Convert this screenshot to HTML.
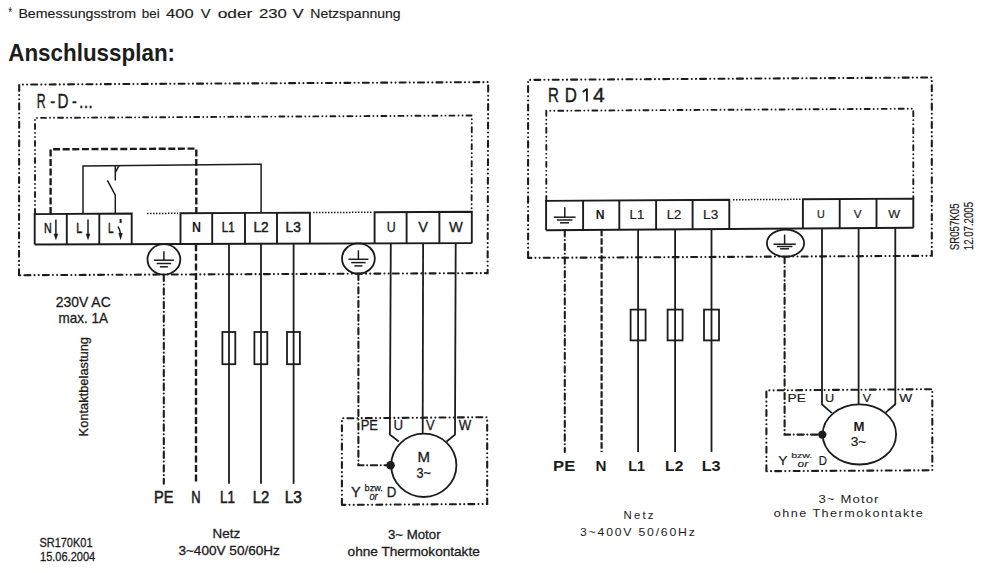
<!DOCTYPE html>
<html><head><meta charset="utf-8"><style>
html,body{margin:0;padding:0;background:#fff;}
svg{display:block;}
text{font-family:"Liberation Sans",sans-serif;fill:#1c1c1c;}
</style></head><body>
<svg width="987" height="573" viewBox="0 0 987 573">
<rect width="987" height="573" fill="#fff"/>
<path d="M19.00,275.20 L19.20,84.60 L488.20,82.10 L487.60,273.10 L19.00,275.20" fill="none" stroke="#1c1c1c" stroke-width="2.1" stroke-linecap="round" stroke-dasharray="6 4.1 0.01 4.2 0.01 4.1"/>
<path d="M35.00,214.00 L35.00,117.90 L471.80,115.50 L471.60,212.00" fill="none" stroke="#1c1c1c" stroke-width="1.9" stroke-linecap="round" stroke-dasharray="5 4 0.01 4 0.01 4"/>
<path d="M50.60,214.00 L50.60,149.30 L196.30,148.60 L196.30,213.20" fill="none" stroke="#1c1c1c" stroke-width="2.4" stroke-dasharray="7 2.6"/>
<path d="M83.00,214.00 L83.00,165.90 L261.10,164.30 L261.10,213.00" fill="none" stroke="#1c1c1c" stroke-width="1.5"/>
<line x1="115.3" y1="165.7" x2="115.3" y2="180.5" fill="none" stroke="#1c1c1c" stroke-width="1.5"/>
<line x1="115.3" y1="172.4" x2="119" y2="165.6" fill="none" stroke="#1c1c1c" stroke-width="1.5"/>
<polyline points="107.4,180.3 115.3,195.2 115.3,214" fill="none" stroke="#1c1c1c" stroke-width="1.5"/>
<path d="M34.70,244.50 L34.70,214.10 L131.70,213.57 L131.70,244.20" fill="none" stroke="#1c1c1c" stroke-width="1.9"/>
<line x1="66.8" y1="213.93" x2="66.8" y2="244.4" fill="none" stroke="#1c1c1c" stroke-width="1.9"/>
<line x1="99.3" y1="213.75" x2="99.3" y2="244.3" fill="none" stroke="#1c1c1c" stroke-width="1.9"/>
<path d="M180.50,244.05 L180.50,213.31 L309.90,212.60 L309.90,243.64" fill="none" stroke="#1c1c1c" stroke-width="1.9"/>
<line x1="212.2" y1="213.13" x2="212.2" y2="243.95" fill="none" stroke="#1c1c1c" stroke-width="1.9"/>
<line x1="245" y1="212.95" x2="245" y2="243.85" fill="none" stroke="#1c1c1c" stroke-width="1.9"/>
<line x1="277" y1="212.78" x2="277" y2="243.75" fill="none" stroke="#1c1c1c" stroke-width="1.9"/>
<path d="M374.60,243.44 L374.60,212.25 L471.80,211.72 L471.80,243.14" fill="none" stroke="#1c1c1c" stroke-width="1.9"/>
<line x1="406.6" y1="212.07" x2="406.6" y2="243.34" fill="none" stroke="#1c1c1c" stroke-width="1.9"/>
<line x1="439.4" y1="211.89" x2="439.4" y2="243.24" fill="none" stroke="#1c1c1c" stroke-width="1.9"/>
<path d="M34.70,244.50 L471.80,243.14" fill="none" stroke="#1c1c1c" stroke-width="1.9"/>
<path d="M147.00,213.49 L178.00,213.32" fill="none" stroke="#1c1c1c" stroke-width="1.5" stroke-dasharray="1.5 1.5"/>
<path d="M313.00,212.58 L373.00,212.26" fill="none" stroke="#1c1c1c" stroke-width="1.5" stroke-dasharray="1.5 1.5"/>
<line x1="55.9" y1="219.5" x2="55.9" y2="235.3" fill="none" stroke="#1c1c1c" stroke-width="1.5"/>
<path d="M53.6,233.8 L58.199999999999996,233.8 L55.9,240.3 Z" fill="#1c1c1c"/>
<line x1="88" y1="219.5" x2="88" y2="235.3" fill="none" stroke="#1c1c1c" stroke-width="1.5"/>
<path d="M85.7,233.8 L90.3,233.8 L88,240.3 Z" fill="#1c1c1c"/>
<line x1="120.6" y1="219" x2="120.6" y2="223" stroke="#1c1c1c" stroke-width="2"/>
<path d="M117.9,226.5 Q119.8,229 120.5,233.5" fill="none" stroke="#1c1c1c" stroke-width="1.5"/>
<path d="M118.4,233 L122.7,233 L120.6,240.2 Z" fill="#1c1c1c"/>
<ellipse cx="163.9" cy="259.4" rx="16.4" ry="15.2" fill="none" stroke="#1c1c1c" stroke-width="1.8"/>
<line x1="163.9" y1="251.2" x2="163.9" y2="260.2" fill="none" stroke="#1c1c1c" stroke-width="1.5"/>
<line x1="153.9" y1="260.2" x2="173.9" y2="260.2" fill="none" stroke="#1c1c1c" stroke-width="1.5"/>
<line x1="156.70000000000002" y1="263.5" x2="171.1" y2="263.5" fill="none" stroke="#1c1c1c" stroke-width="1.5"/>
<line x1="159.9" y1="266.8" x2="167.9" y2="266.8" fill="none" stroke="#1c1c1c" stroke-width="1.5"/>
<ellipse cx="358.4" cy="258.5" rx="16.4" ry="15.2" fill="none" stroke="#1c1c1c" stroke-width="1.8"/>
<line x1="358.4" y1="250.3" x2="358.4" y2="259.3" fill="none" stroke="#1c1c1c" stroke-width="1.5"/>
<line x1="348.4" y1="259.3" x2="368.4" y2="259.3" fill="none" stroke="#1c1c1c" stroke-width="1.5"/>
<line x1="351.2" y1="262.6" x2="365.59999999999997" y2="262.6" fill="none" stroke="#1c1c1c" stroke-width="1.5"/>
<line x1="354.4" y1="265.90000000000003" x2="362.4" y2="265.90000000000003" fill="none" stroke="#1c1c1c" stroke-width="1.5"/>
<line x1="163.8" y1="274.7" x2="163.8" y2="483.8" fill="none" stroke="#1c1c1c" stroke-width="2.1" stroke-linecap="round" stroke-dasharray="6.3 3.6 0.01 3.7"/>
<line x1="196" y1="244.2" x2="196" y2="483.8" fill="none" stroke="#1c1c1c" stroke-width="2.4" stroke-dasharray="7 2.6"/>
<line x1="229" y1="244" x2="229" y2="483.8" fill="none" stroke="#1c1c1c" stroke-width="1.8"/>
<rect x="222.4" y="332" width="12.9" height="32.2" fill="none" stroke="#1c1c1c" stroke-width="1.8"/>
<line x1="261" y1="244" x2="261" y2="483.8" fill="none" stroke="#1c1c1c" stroke-width="1.8"/>
<rect x="254.4" y="332" width="12.9" height="32.2" fill="none" stroke="#1c1c1c" stroke-width="1.8"/>
<line x1="293.6" y1="244" x2="293.6" y2="483.8" fill="none" stroke="#1c1c1c" stroke-width="1.8"/>
<rect x="287.0" y="332" width="12.9" height="32.2" fill="none" stroke="#1c1c1c" stroke-width="1.8"/>
<path d="M358.4,273.6 V465.3 H388" fill="none" stroke="#1c1c1c" stroke-width="2.1" stroke-linecap="round" stroke-dasharray="6.3 3.6 0.01 3.7"/>
<polyline points="390.8,243.6 389.9,434.6 398.8,441.5" fill="none" stroke="#1c1c1c" stroke-width="1.8"/>
<line x1="423.1" y1="243.5" x2="422.7" y2="433.6" fill="none" stroke="#1c1c1c" stroke-width="1.8"/>
<polyline points="455.7,243.4 455,434.6 446.6,441.5" fill="none" stroke="#1c1c1c" stroke-width="1.8"/>
<path d="M341.90,504.90 L341.90,418.30 L487.20,417.20 L487.20,504.00 L341.90,504.90" fill="none" stroke="#1c1c1c" stroke-width="2.1" stroke-linecap="round" stroke-dasharray="6 4.1 0.01 4.2 0.01 4.1"/>
<ellipse cx="423.8" cy="465.3" rx="32.6" ry="31.7" fill="none" stroke="#1c1c1c" stroke-width="1.8"/>
<circle cx="390.5" cy="465.3" r="4.3" fill="#1c1c1c"/>
<path d="M528.10,257.90 L528.10,79.90 L931.80,77.50 L931.80,255.80 L528.10,257.90" fill="none" stroke="#1c1c1c" stroke-width="2.1" stroke-linecap="round" stroke-dasharray="6 4.1 0.01 4.2 0.01 4.1"/>
<path d="M546.30,200.90 L546.30,110.80 L913.30,108.70 L913.30,198.60" fill="none" stroke="#1c1c1c" stroke-width="1.9" stroke-linecap="round" stroke-dasharray="5 4 0.01 4 0.01 4"/>
<path d="M546.10,230.20 L546.10,200.90 L729.30,199.75 L729.30,228.95" fill="none" stroke="#1c1c1c" stroke-width="1.9"/>
<line x1="583.1" y1="200.67" x2="583.1" y2="229.95" fill="none" stroke="#1c1c1c" stroke-width="1.9"/>
<line x1="619.3" y1="200.44" x2="619.3" y2="229.7" fill="none" stroke="#1c1c1c" stroke-width="1.9"/>
<line x1="656.1" y1="200.21" x2="656.1" y2="229.45" fill="none" stroke="#1c1c1c" stroke-width="1.9"/>
<line x1="692.6" y1="199.98" x2="692.6" y2="229.2" fill="none" stroke="#1c1c1c" stroke-width="1.9"/>
<path d="M802.90,228.45 L802.90,199.29 L913.30,198.60 L913.30,227.70" fill="none" stroke="#1c1c1c" stroke-width="1.9"/>
<line x1="839.7" y1="199.06" x2="839.7" y2="228.2" fill="none" stroke="#1c1c1c" stroke-width="1.9"/>
<line x1="876.5" y1="198.83" x2="876.5" y2="227.95" fill="none" stroke="#1c1c1c" stroke-width="1.9"/>
<path d="M546.10,230.20 L913.30,227.70" fill="none" stroke="#1c1c1c" stroke-width="1.9"/>
<path d="M733.00,199.73 L801.00,199.30" fill="none" stroke="#1c1c1c" stroke-width="1.5" stroke-dasharray="1.5 1.5"/>
<line x1="564.8" y1="207.2" x2="564.8" y2="217.2" fill="none" stroke="#1c1c1c" stroke-width="1.5"/>
<line x1="553.8" y1="217.2" x2="575.6" y2="217.2" fill="none" stroke="#1c1c1c" stroke-width="1.5"/>
<line x1="557" y1="220" x2="572.4" y2="220" fill="none" stroke="#1c1c1c" stroke-width="1.5"/>
<line x1="560" y1="222.8" x2="569" y2="222.8" fill="none" stroke="#1c1c1c" stroke-width="1.5"/>
<ellipse cx="785.5" cy="243.2" rx="18.6" ry="13.6" fill="none" stroke="#1c1c1c" stroke-width="1.8"/>
<line x1="784.6" y1="234.6" x2="784.6" y2="244.2" fill="none" stroke="#1c1c1c" stroke-width="1.5"/>
<line x1="773.5" y1="244.2" x2="795.8" y2="244.2" fill="none" stroke="#1c1c1c" stroke-width="1.5"/>
<line x1="776.8" y1="246.5" x2="792.4" y2="246.5" fill="none" stroke="#1c1c1c" stroke-width="1.5"/>
<line x1="780.2" y1="248.8" x2="789.1" y2="248.8" fill="none" stroke="#1c1c1c" stroke-width="1.5"/>
<line x1="564.8" y1="230.2" x2="564.8" y2="451.9" fill="none" stroke="#1c1c1c" stroke-width="2.1" stroke-linecap="round" stroke-dasharray="6.3 3.6 0.01 3.7"/>
<line x1="601.6" y1="229.8" x2="601.6" y2="451.9" fill="none" stroke="#1c1c1c" stroke-width="2.2" stroke-dasharray="6.5 2"/>
<line x1="638.1" y1="229.57" x2="638.1" y2="451.9" fill="none" stroke="#1c1c1c" stroke-width="1.8"/>
<rect x="630.6" y="309.6" width="15" height="30.8" fill="none" stroke="#1c1c1c" stroke-width="1.8"/>
<line x1="675.1" y1="229.32" x2="675.1" y2="451.9" fill="none" stroke="#1c1c1c" stroke-width="1.8"/>
<rect x="667.6" y="309.6" width="15" height="30.8" fill="none" stroke="#1c1c1c" stroke-width="1.8"/>
<line x1="711.5" y1="229.07" x2="711.5" y2="451.9" fill="none" stroke="#1c1c1c" stroke-width="1.8"/>
<rect x="704.0" y="309.6" width="15" height="30.8" fill="none" stroke="#1c1c1c" stroke-width="1.8"/>
<path d="M784.6,256.9 V434.6 H820" fill="none" stroke="#1c1c1c" stroke-width="2.1" stroke-linecap="round" stroke-dasharray="6.3 3.6 0.01 3.7"/>
<polyline points="822,228.2 822,404.3 831.9,413.1" fill="none" stroke="#1c1c1c" stroke-width="1.8"/>
<line x1="858.6" y1="228.1" x2="858.6" y2="404.3" fill="none" stroke="#1c1c1c" stroke-width="1.8"/>
<polyline points="895.3,228 895.3,404.3 885.6,412.6" fill="none" stroke="#1c1c1c" stroke-width="1.8"/>
<path d="M766.40,471.20 L766.40,390.40 L932.30,389.20 L932.30,470.30 L766.40,471.20" fill="none" stroke="#1c1c1c" stroke-width="2.1" stroke-linecap="round" stroke-dasharray="6 4.1 0.01 4.2 0.01 4.1"/>
<ellipse cx="859.4" cy="434.4" rx="36.7" ry="30.1" fill="none" stroke="#1c1c1c" stroke-width="1.8"/>
<circle cx="822.3" cy="434.6" r="4.2" fill="#1c1c1c"/>
<text x="8.20" y="17.2" font-size="14" font-weight="normal" textLength="3.90" lengthAdjust="spacingAndGlyphs" >*</text>
<text x="18.40" y="17.9" font-size="12.8" font-weight="normal" textLength="117.70" lengthAdjust="spacingAndGlyphs" stroke="#1c1c1c" stroke-width="0.15" >Bemessungsstrom</text>
<text x="141.80" y="17.9" font-size="12.8" font-weight="normal" textLength="17.81" lengthAdjust="spacingAndGlyphs" stroke="#1c1c1c" stroke-width="0.15" >bei</text>
<text x="166.00" y="17.9" font-size="12.8" font-weight="normal" textLength="27.61" lengthAdjust="spacingAndGlyphs" stroke="#1c1c1c" stroke-width="0.15" >400</text>
<text x="200.70" y="17.9" font-size="12.8" font-weight="normal" textLength="9.90" lengthAdjust="spacingAndGlyphs" stroke="#1c1c1c" stroke-width="0.15" >V</text>
<text x="217.70" y="17.9" font-size="12.8" font-weight="normal" textLength="34.71" lengthAdjust="spacingAndGlyphs" stroke="#1c1c1c" stroke-width="0.15" >oder</text>
<text x="259.00" y="17.9" font-size="12.8" font-weight="normal" textLength="27.91" lengthAdjust="spacingAndGlyphs" stroke="#1c1c1c" stroke-width="0.15" >230</text>
<text x="292.50" y="17.9" font-size="12.8" font-weight="normal" textLength="11.20" lengthAdjust="spacingAndGlyphs" stroke="#1c1c1c" stroke-width="0.15" >V</text>
<text x="310.30" y="17.9" font-size="12.8" font-weight="normal" textLength="90.30" lengthAdjust="spacingAndGlyphs" stroke="#1c1c1c" stroke-width="0.15" >Netzspannung</text>
<text x="8.20" y="60.6" font-size="24" font-weight="bold" textLength="166.90" lengthAdjust="spacingAndGlyphs" >Anschlussplan:</text>
<text x="36.70" y="107.5" font-size="19.5" font-weight="normal" textLength="8.90" lengthAdjust="spacingAndGlyphs" stroke="#1c1c1c" stroke-width="0.35" >R</text>
<text x="50.30" y="107.5" font-size="19.5" font-weight="normal" textLength="5.00" lengthAdjust="spacingAndGlyphs" stroke="#1c1c1c" stroke-width="0.35" >-</text>
<text x="57.60" y="107.5" font-size="19.5" font-weight="normal" textLength="11.00" lengthAdjust="spacingAndGlyphs" stroke="#1c1c1c" stroke-width="0.35" >D</text>
<text x="72.00" y="107.5" font-size="19.5" font-weight="normal" textLength="4.80" lengthAdjust="spacingAndGlyphs" stroke="#1c1c1c" stroke-width="0.35" >-</text>
<text x="79.10" y="107.5" font-size="19.5" font-weight="normal" textLength="13.61" lengthAdjust="spacingAndGlyphs" stroke="#1c1c1c" stroke-width="0.35" >...</text>
<text x="44.00" y="232.9" font-size="14.5" font-weight="normal" textLength="7.70" lengthAdjust="spacingAndGlyphs" stroke="#1c1c1c" stroke-width="0.5" >N</text>
<text x="76.30" y="232.9" font-size="14.5" font-weight="normal" textLength="6.10" lengthAdjust="spacingAndGlyphs" stroke="#1c1c1c" stroke-width="0.5" >L</text>
<text x="108.00" y="232.9" font-size="14.5" font-weight="normal" textLength="5.60" lengthAdjust="spacingAndGlyphs" stroke="#1c1c1c" stroke-width="0.5" >L</text>
<text x="192.00" y="232.1" font-size="14" font-weight="bold" textLength="9.00" lengthAdjust="spacingAndGlyphs" >N</text>
<text x="221.80" y="232.1" font-size="14" font-weight="normal" textLength="12.80" lengthAdjust="spacingAndGlyphs" stroke="#1c1c1c" stroke-width="0.5" >L1</text>
<text x="253.40" y="232.1" font-size="14" font-weight="normal" textLength="15.20" lengthAdjust="spacingAndGlyphs" stroke="#1c1c1c" stroke-width="0.5" >L2</text>
<text x="285.60" y="232.1" font-size="14" font-weight="normal" textLength="15.20" lengthAdjust="spacingAndGlyphs" stroke="#1c1c1c" stroke-width="0.5" >L3</text>
<text x="386.70" y="231.5" font-size="14" font-weight="normal" textLength="9.00" lengthAdjust="spacingAndGlyphs" stroke="#1c1c1c" stroke-width="0.3" >U</text>
<text x="418.30" y="231.5" font-size="14" font-weight="normal" textLength="9.80" lengthAdjust="spacingAndGlyphs" stroke="#1c1c1c" stroke-width="0.3" >V</text>
<text x="449.10" y="231.5" font-size="14" font-weight="normal" textLength="13.80" lengthAdjust="spacingAndGlyphs" stroke="#1c1c1c" stroke-width="0.3" >W</text>
<text x="154.10" y="502.7" font-size="16" font-weight="normal" textLength="19.50" lengthAdjust="spacingAndGlyphs" stroke="#1c1c1c" stroke-width="0.55" >PE</text>
<text x="191.30" y="502.7" font-size="16" font-weight="normal" textLength="9.30" lengthAdjust="spacingAndGlyphs" stroke="#1c1c1c" stroke-width="0.55" >N</text>
<text x="220.00" y="502.7" font-size="16" font-weight="normal" textLength="15.00" lengthAdjust="spacingAndGlyphs" stroke="#1c1c1c" stroke-width="0.55" >L1</text>
<text x="252.80" y="502.7" font-size="16" font-weight="normal" textLength="16.40" lengthAdjust="spacingAndGlyphs" stroke="#1c1c1c" stroke-width="0.55" >L2</text>
<text x="284.70" y="502.7" font-size="16" font-weight="normal" textLength="17.20" lengthAdjust="spacingAndGlyphs" stroke="#1c1c1c" stroke-width="0.55" >L3</text>
<text x="55.80" y="306.9" font-size="14.4" font-weight="normal" textLength="54.90" lengthAdjust="spacingAndGlyphs" stroke="#1c1c1c" stroke-width="0.3" >230V AC</text>
<text x="58.50" y="323.1" font-size="14.4" font-weight="normal" textLength="49.60" lengthAdjust="spacingAndGlyphs" stroke="#1c1c1c" stroke-width="0.3" >max. 1A</text>
<text x="0.00" y="0" font-size="12.6" font-weight="normal" textLength="99.40" lengthAdjust="spacingAndGlyphs" stroke="#1c1c1c" stroke-width="0.3" transform="translate(87.7,436.4) rotate(-90)">Kontaktbelastung</text>
<text x="39.40" y="546.7" font-size="12.2" font-weight="normal" textLength="53.10" lengthAdjust="spacingAndGlyphs" stroke="#1c1c1c" stroke-width="0.3" >SR170K01</text>
<text x="40.00" y="560.7" font-size="12.2" font-weight="normal" textLength="55.20" lengthAdjust="spacingAndGlyphs" stroke="#1c1c1c" stroke-width="0.3" >15.06.2004</text>
<text x="212.50" y="537.7" font-size="13.4" font-weight="normal" textLength="27.60" lengthAdjust="spacingAndGlyphs" stroke="#1c1c1c" stroke-width="0.3" >Netz</text>
<text x="178.40" y="554.7" font-size="13.4" font-weight="normal" textLength="101.50" lengthAdjust="spacingAndGlyphs" stroke="#1c1c1c" stroke-width="0.3" >3~400V 50/60Hz</text>
<text x="387.90" y="538.6" font-size="13.4" font-weight="normal" textLength="52.70" lengthAdjust="spacingAndGlyphs" stroke="#1c1c1c" stroke-width="0.3" >3~ Motor</text>
<text x="347.60" y="556" font-size="13.4" font-weight="normal" textLength="132.20" lengthAdjust="spacingAndGlyphs" stroke="#1c1c1c" stroke-width="0.3" >ohne Thermokontakte</text>
<text x="360.70" y="429.8" font-size="15" font-weight="normal" textLength="17.30" lengthAdjust="spacingAndGlyphs" stroke="#1c1c1c" stroke-width="0.3" >PE</text>
<text x="393.40" y="429.8" font-size="15" font-weight="normal" textLength="9.60" lengthAdjust="spacingAndGlyphs" stroke="#1c1c1c" stroke-width="0.3" >U</text>
<text x="426.00" y="429.8" font-size="15" font-weight="normal" textLength="8.70" lengthAdjust="spacingAndGlyphs" stroke="#1c1c1c" stroke-width="0.3" >V</text>
<text x="458.70" y="429.8" font-size="15" font-weight="normal" textLength="12.50" lengthAdjust="spacingAndGlyphs" stroke="#1c1c1c" stroke-width="0.3" >W</text>
<text x="417.40" y="461.5" font-size="14" font-weight="normal" textLength="12.50" lengthAdjust="spacingAndGlyphs" stroke="#1c1c1c" stroke-width="0.3" >M</text>
<text x="416.40" y="477.8" font-size="14" font-weight="normal" textLength="14.40" lengthAdjust="spacingAndGlyphs" stroke="#1c1c1c" stroke-width="0.3" >3~</text>
<text x="351.00" y="497" font-size="14" font-weight="normal" textLength="9.70" lengthAdjust="spacingAndGlyphs" stroke="#1c1c1c" stroke-width="0.3" >Y</text>
<text x="364.60" y="491.2" font-size="9.2" font-weight="normal" textLength="18.20" lengthAdjust="spacingAndGlyphs" stroke="#1c1c1c" stroke-width="0.25" >bzw.</text>
<text x="369.40" y="499.9" font-size="10.5" font-weight="normal" textLength="8.28" lengthAdjust="spacingAndGlyphs" font-style="italic" stroke="#1c1c1c" stroke-width="0.25" >or</text>
<text x="386.70" y="497" font-size="14" font-weight="normal" textLength="9.60" lengthAdjust="spacingAndGlyphs" stroke="#1c1c1c" stroke-width="0.3" >D</text>
<text x="548.10" y="101.5" font-size="19.6" font-weight="normal" textLength="10.90" lengthAdjust="spacingAndGlyphs" stroke="#1c1c1c" stroke-width="0.4" >R</text>
<text x="564.70" y="101.5" font-size="19.6" font-weight="normal" textLength="12.20" lengthAdjust="spacingAndGlyphs" stroke="#1c1c1c" stroke-width="0.4" >D</text>
<text x="593.10" y="101.5" font-size="19.6" font-weight="normal" textLength="11.70" lengthAdjust="spacingAndGlyphs" stroke="#1c1c1c" stroke-width="0.4" >4</text>
<path d="M586.9,101.4 V89.1 L582.7,92.1" fill="none" stroke="#1c1c1c" stroke-width="1.9" stroke-linejoin="round"/>
<text x="595.80" y="219.2" font-size="12.4" font-weight="bold" textLength="8.80" lengthAdjust="spacingAndGlyphs" >N</text>
<text x="629.60" y="218.9" font-size="12.4" font-weight="normal" textLength="14.60" lengthAdjust="spacingAndGlyphs" stroke="#1c1c1c" stroke-width="0.2" >L1</text>
<text x="666.70" y="218.9" font-size="12.4" font-weight="normal" textLength="14.60" lengthAdjust="spacingAndGlyphs" stroke="#1c1c1c" stroke-width="0.2" >L2</text>
<text x="703.10" y="218.9" font-size="12.4" font-weight="normal" textLength="15.20" lengthAdjust="spacingAndGlyphs" stroke="#1c1c1c" stroke-width="0.2" >L3</text>
<text x="817.00" y="217.9" font-size="11.3" font-weight="normal" textLength="7.80" lengthAdjust="spacingAndGlyphs" stroke="#1c1c1c" stroke-width="0.2" >U</text>
<text x="853.70" y="217.9" font-size="11.3" font-weight="normal" textLength="7.80" lengthAdjust="spacingAndGlyphs" stroke="#1c1c1c" stroke-width="0.2" >V</text>
<text x="888.30" y="217.9" font-size="11.3" font-weight="normal" textLength="11.80" lengthAdjust="spacingAndGlyphs" stroke="#1c1c1c" stroke-width="0.2" >W</text>
<text x="553.10" y="470.8" font-size="15.4" font-weight="bold" textLength="22.10" lengthAdjust="spacingAndGlyphs" >PE</text>
<text x="595.40" y="470.8" font-size="15.4" font-weight="bold" textLength="11.00" lengthAdjust="spacingAndGlyphs" >N</text>
<text x="628.20" y="470.8" font-size="15.4" font-weight="bold" textLength="16.70" lengthAdjust="spacingAndGlyphs" >L1</text>
<text x="665.10" y="470.8" font-size="15.4" font-weight="bold" textLength="18.30" lengthAdjust="spacingAndGlyphs" >L2</text>
<text x="701.70" y="470.8" font-size="15.4" font-weight="bold" textLength="18.90" lengthAdjust="spacingAndGlyphs" >L3</text>
<text x="787.50" y="401.6" font-size="10.8" font-weight="normal" textLength="18.30" lengthAdjust="spacingAndGlyphs" stroke="#1c1c1c" stroke-width="0.2" >PE</text>
<text x="825.00" y="401.6" font-size="10.8" font-weight="normal" textLength="9.20" lengthAdjust="spacingAndGlyphs" stroke="#1c1c1c" stroke-width="0.2" >U</text>
<text x="862.70" y="401.6" font-size="10.8" font-weight="normal" textLength="8.20" lengthAdjust="spacingAndGlyphs" stroke="#1c1c1c" stroke-width="0.2" >V</text>
<text x="899.30" y="401.6" font-size="10.8" font-weight="normal" textLength="12.90" lengthAdjust="spacingAndGlyphs" stroke="#1c1c1c" stroke-width="0.2" >W</text>
<text x="853.50" y="430.9" font-size="12" font-weight="bold" textLength="11.00" lengthAdjust="spacingAndGlyphs" >M</text>
<text x="850.70" y="445.6" font-size="12" font-weight="normal" textLength="15.60" lengthAdjust="spacingAndGlyphs" stroke="#1c1c1c" stroke-width="0.2" >3~</text>
<text x="778.30" y="464.8" font-size="13" font-weight="normal" textLength="9.20" lengthAdjust="spacingAndGlyphs" stroke="#1c1c1c" stroke-width="0.2" >Y</text>
<text x="791.20" y="458.4" font-size="8" font-weight="normal" textLength="21.00" lengthAdjust="spacingAndGlyphs" stroke="#1c1c1c" stroke-width="0.15" >bzw.</text>
<text x="797.60" y="466.7" font-size="9" font-weight="normal" textLength="10.60" lengthAdjust="spacingAndGlyphs" font-style="italic" stroke="#1c1c1c" stroke-width="0.15" >or</text>
<text x="818.70" y="464.8" font-size="12" font-weight="normal" textLength="8.20" lengthAdjust="spacingAndGlyphs" stroke="#1c1c1c" stroke-width="0.2" >D</text>
<text x="623.50" y="518.9" font-size="10.2" font-weight="normal" textLength="32.23" lengthAdjust="spacingAndGlyphs" letter-spacing="2" >Netz</text>
<text x="580.00" y="535.6" font-size="10.2" font-weight="normal" textLength="116.60" lengthAdjust="spacingAndGlyphs" letter-spacing="1.5" >3~400V 50/60Hz</text>
<text x="818.40" y="502.8" font-size="11.6" font-weight="normal" textLength="61.23" lengthAdjust="spacingAndGlyphs" letter-spacing="1" >3~ Motor</text>
<text x="773.70" y="517.4" font-size="11.2" font-weight="normal" textLength="150.47" lengthAdjust="spacingAndGlyphs" letter-spacing="1.3" >ohne Thermokontakte</text>
<text x="0.00" y="0" font-size="12.5" font-weight="normal" textLength="46.70" lengthAdjust="spacingAndGlyphs" stroke="#1c1c1c" stroke-width="0.2" transform="translate(958.5,250.2) rotate(-90)">SR057K05</text>
<text x="0.00" y="0" font-size="12" font-weight="normal" textLength="48.20" lengthAdjust="spacingAndGlyphs" stroke="#1c1c1c" stroke-width="0.2" transform="translate(973.4,250.2) rotate(-90)">12.07.2005</text>
</svg>
</body></html>
